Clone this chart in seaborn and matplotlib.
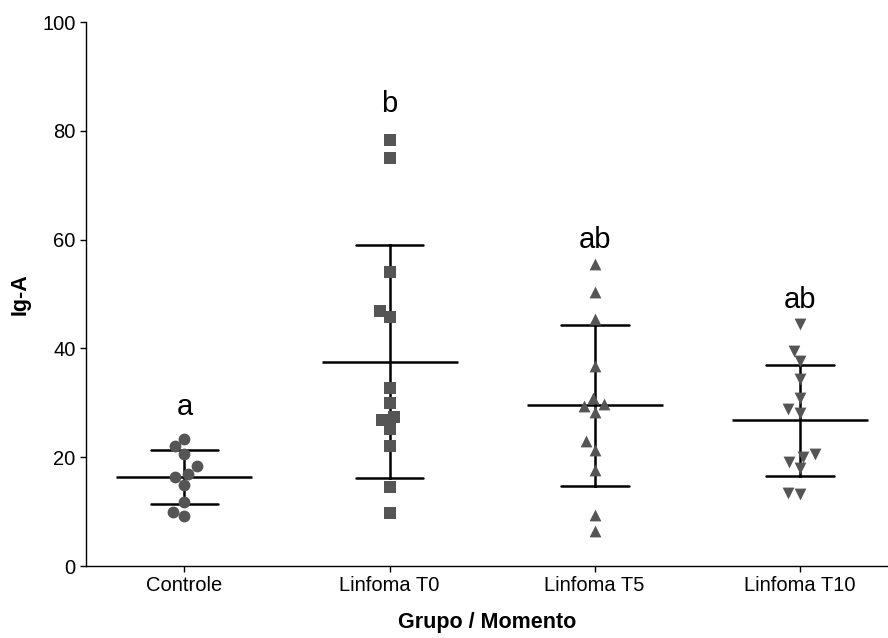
import numpy as np
import pandas as pd
import matplotlib
matplotlib.use("Agg")
import matplotlib.pyplot as plt
import seaborn as sns

# ── Data ──────────────────────────────────────────────────────
groups = ["Controle", "Linfoma T0", "Linfoma T5", "Linfoma T10"]
controle = [23.3, 22.0, 20.6, 18.3, 16.3, 16.9, 14.8, 11.8, 9.1, 9.9]
linfoma_t0 = [78.4, 75.0, 54.0, 46.9, 45.8, 32.8, 29.9, 26.8, 27.3, 25.2, 22.1, 14.6, 9.8]
linfoma_t5 = [55.5, 50.3, 45.4, 36.8, 30.8, 29.4, 29.7, 28.3, 22.9, 21.4, 17.6, 9.3, 6.5]
linfoma_t10 = [44.5, 39.6, 37.7, 34.3, 30.8, 28.8, 28.2, 20.6, 20.1, 19.1, 18.0, 13.2, 13.5]
letters = ["a", "b", "ab", "ab"]
letter_y = [27.8, 83.5, 58.5, 47.4]

series = [controle, linfoma_t0, linfoma_t5, linfoma_t10]
markers = ["o", "s", "^", "v"]
sizes = [8.5, 8, 8.5, 8.5]

df = pd.concat(
    [pd.DataFrame({"grupo": g, "valor": v}) for g, v in zip(groups, series)],
    ignore_index=True,
)

sns.set_style("ticks")
plt.rcParams["font.family"] = ["Liberation Sans", "DejaVu Sans"]

fig = plt.figure(figsize=(8.88, 6.38), dpi=100)
ax = fig.add_axes([86 / 888, 72 / 638, 802 / 888, 544 / 638])

# individual points
for g, m, s in zip(groups, markers, sizes):
    sns.swarmplot(
        data=df[df["grupo"] == g], x="grupo", y="valor", order=groups,
        marker=m, size=s, color="#555555", linewidth=0, ax=ax,
    )

# mean ± SD
sns.pointplot(
    data=df, x="grupo", y="valor", order=groups,
    errorbar="sd", capsize=0.33, color="black",
    marker="_", markersize=98, markeredgewidth=1.8,
    linestyle="none", err_kws={"linewidth": 1.8}, ax=ax,
)

# significance letters
for i, lab in enumerate(letters):
    ax.text(i, letter_y[i], lab, ha="center", va="baseline", fontsize=21, color="black")

ax.set_xlim(-0.48, 3.43)
ax.set_ylim(0, 100)
ax.set_yticks(np.arange(0, 101, 20))
ax.set_xlabel("Grupo / Momento", fontsize=15.5, fontweight="bold", labelpad=12, color="black")
ax.set_ylabel("Ig-A", fontsize=15.5, fontweight="bold", labelpad=8, color="black")
ax.tick_params(axis="both", labelsize=14.5, length=4, width=1, colors="black", direction="out")
for sp in ["top", "right"]:
    ax.spines[sp].set_visible(False)
for sp in ["left", "bottom"]:
    ax.spines[sp].set_linewidth(1)
    ax.spines[sp].set_color("black")

fig.savefig("out.png", dpi=100, facecolor="white")
